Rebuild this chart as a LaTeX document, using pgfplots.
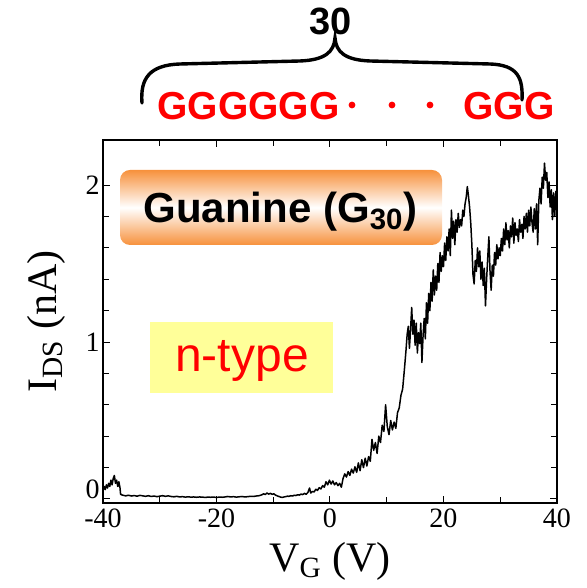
\documentclass[border=0pt]{standalone}
\usepackage{fontspec}
\setmainfont{Liberation Serif}
\setsansfont{Liberation Sans}
\usepackage{pgfplots}
\pgfplotsset{compat=1.18}
\definecolor{gorange}{HTML}{F7913C}
\definecolor{nyellow}{HTML}{FFFF99}

\begin{document}
\begin{tikzpicture}
\begin{axis}[
  scale only axis, width=227pt, height=181.5pt,
  xmin=-40, xmax=40, ymin=-0.0255, ymax=2.287,
  xtick={-40,-20,0,20,40}, minor x tick num=1,
  ytick={0,1,2}, yticklabels={\smash{0},1,2},
  minor y tick num=4,
  tick align=inside, tick pos=both,
  major tick length=3.5pt, minor tick length=3pt,
  every tick/.style={black, line width=0.5pt},
  axis line style={line width=0.8pt},
  /pgf/number format/assume math mode=true,
  tick label style={font=\fontsize{14}{15}\selectfont},
  xticklabel style={inner sep=1pt, yshift=-1.5pt},
  yticklabel style={inner sep=1.5pt},
  label style={font=\fontsize{21}{22}\selectfont},
  xlabel={V\textsubscript{G} (V)}, xlabel shift=3pt,
  ylabel={I\textsubscript{DS} (nA)}, ylabel shift=5pt,
]
% gate sweep
\addplot[black, line width=0.75pt, line join=round] coordinates {
(-40.0,0.05) (-39.8,0.08) (-39.6,0.06) (-39.4,0.09) (-39.2,0.07) (-39.0,0.10)
(-38.8,0.08) (-38.6,0.12) (-38.4,0.09) (-38.2,0.13) (-38.0,0.15) (-37.8,0.10)
(-37.6,0.12) (-37.4,0.08) (-37.2,0.11) (-37.0,0.07) (-36.9,0.03) (-36.6,0.025)
(-36.0,0.020) (-35.5,0.024) (-35.0,0.019) (-34.5,0.022) (-34.0,0.018) (-33.5,0.023)
(-33.0,0.020) (-32.5,0.017) (-32.0,0.021) (-31.5,0.016) (-31.0,0.019) (-30.5,0.015)
(-30.0,0.018) (-29.5,0.021) (-29.0,0.017) (-28.5,0.020) (-28.0,0.016) (-27.5,0.014)
(-27.0,0.017) (-26.5,0.013) (-26.0,0.015) (-25.5,0.012) (-25.0,0.014) (-24.5,0.012)
(-24.0,0.013) (-23.5,0.011) (-23.0,0.013) (-22.5,0.012) (-22.0,0.010) (-21.5,0.012)
(-21.0,0.011) (-20.5,0.012) (-20.0,0.010) (-19.5,0.012) (-19.0,0.011) (-18.5,0.013)
(-18.0,0.016) (-17.5,0.013) (-17.0,0.015) (-16.5,0.012) (-16.0,0.014) (-15.5,0.016)
(-15.0,0.013) (-14.5,0.015) (-14.0,0.017) (-13.5,0.016) (-13.0,0.019) (-12.5,0.021)
(-12.0,0.027) (-11.7,0.033) (-11.4,0.029) (-11.1,0.038) (-10.8,0.031) (-10.5,0.036)
(-10.2,0.030) (-9.9,0.033) (-9.6,0.025) (-9.3,0.020) (-9.0,0.016) (-8.7,0.012)
(-8.4,0.010) (-8.1,0.013) (-7.8,0.015) (-7.5,0.018) (-7.2,0.017) (-6.9,0.021)
(-6.6,0.019) (-6.3,0.024) (-6.0,0.022) (-5.7,0.027) (-5.4,0.025) (-5.1,0.031)
(-4.8,0.028) (-4.5,0.036) (-4.2,0.030) (-3.9,0.041) (-3.6,0.070) (-3.4,0.038)
(-3.1,0.048) (-2.8,0.045) (-2.5,0.062) (-2.2,0.055) (-1.9,0.072) (-1.6,0.064)
(-1.3,0.085) (-1.0,0.075) (-0.7,0.11) (-0.4,0.09) (-0.1,0.12)
(0.2,0.095) (0.5,0.115) (0.8,0.09) (1.1,0.105) (1.4,0.085) (1.7,0.10) (2.0,0.075)
(2.3,0.13) (2.6,0.16) (2.9,0.14) (3.2,0.175) (3.5,0.15) (3.8,0.19) (4.1,0.165)
(4.4,0.205) (4.7,0.17) (5.0,0.23) (5.3,0.18) (5.6,0.25) (5.9,0.20) (6.2,0.26)
(6.5,0.21) (6.8,0.27) (7.1,0.24) (7.4,0.38) (7.7,0.31) (8.0,0.36) (8.3,0.29)
(8.6,0.40) (8.9,0.36) (9.2,0.47) (9.5,0.43) (9.8,0.60) (10.1,0.46) (10.4,0.41)
(10.7,0.50) (11.0,0.44) (11.3,0.49) (11.6,0.45) (11.9,0.55) (12.2,0.58) (12.5,0.66)
(12.8,0.70) (13.1,0.82) (13.4,0.95) (13.6,1.05) (13.8,1.10) (14.0,0.96) (14.2,1.08)
(14.4,1.22) (14.6,1.05) (14.8,1.14) (15.0,0.98) (15.2,1.12) (15.4,0.93) (15.6,1.06)
(15.8,0.99) (16.0,1.12) (16.2,0.87) (16.4,1.04) (16.6,1.15) (16.8,1.02) (17.0,1.25)
(17.2,1.12) (17.4,1.31) (17.6,1.20) (17.8,1.38) (18.0,1.26) (18.2,1.46) (18.4,1.30)
(18.6,1.42) (18.8,1.33) (19.0,1.50) (19.2,1.38) (19.4,1.57) (19.6,1.45) (19.8,1.55)
(20.0,1.48) (20.2,1.63) (20.4,1.52) (20.6,1.67) (20.8,1.58) (21.0,1.72) (21.2,1.55)
(21.4,1.84) (21.6,1.66) (21.8,1.77) (22.0,1.62) (22.2,1.78) (22.4,1.70) (22.6,1.82)
(22.8,1.73) (23.0,1.78) (23.2,1.74) (23.4,1.84) (23.6,1.80) (23.8,1.88) (24.0,1.92)
(24.2,1.99) (24.4,1.93) (24.6,1.86) (24.8,1.76) (25.0,1.62) (25.2,1.43) (25.4,1.37)
(25.6,1.52) (25.8,1.45) (26.0,1.60) (26.2,1.48) (26.4,1.58) (26.6,1.40) (26.8,1.51)
(27.0,1.36) (27.2,1.47) (27.4,1.23) (27.6,1.40) (27.8,1.54) (28.0,1.67) (28.2,1.45)
(28.4,1.33) (28.6,1.49) (28.8,1.42) (29.0,1.57) (29.2,1.49) (29.4,1.62) (29.6,1.53)
(29.8,1.60) (30.0,1.55) (30.2,1.66) (30.4,1.58) (30.6,1.72) (30.8,1.62) (31.0,1.76)
(31.2,1.65) (31.4,1.71) (31.6,1.60) (31.8,1.74) (32.0,1.67) (32.2,1.79) (32.4,1.63)
(32.6,1.76) (32.8,1.68) (33.0,1.72) (33.2,1.64) (33.4,1.78) (33.6,1.70) (33.8,1.75)
(34.0,1.66) (34.2,1.80) (34.4,1.72) (34.6,1.82) (34.8,1.70) (35.0,1.84) (35.2,1.74)
(35.4,1.86) (35.6,1.76) (35.8,1.70) (36.0,1.85) (36.2,1.72) (36.4,1.88) (36.6,1.62)
(36.8,1.90) (37.0,1.98) (37.2,1.88) (37.4,2.05) (37.6,1.98) (37.8,2.14) (38.0,2.03)
(38.2,2.08) (38.4,1.92) (38.6,2.02) (38.8,1.86) (39.0,1.97) (39.2,1.78) (39.4,1.95)
(39.6,1.80) (39.8,1.96) (40.0,1.84)
};
\end{axis}
% annotations in reference pixel units: (103,503) is the axis corner
\begin{scope}[shift={(-51.5pt,251.5pt)}, x=0.5pt, y=-0.5pt]
  \shade[rounded corners=5pt, top color=gorange, bottom color=gorange, middle color=white]
    (120,170) rectangle (442,245);
  \node[anchor=base, font=\sffamily\bfseries\fontsize{21}{22}\selectfont]
    at (280.5,223) {Guanine (G\textsubscript{30})};
  \fill[nyellow] (150,322) rectangle (333,393);
  \node[anchor=base, text=red, font=\sffamily\fontsize{24}{26}\selectfont]
    at (242,372) {n-type};
  \draw[line width=1.7pt, line cap=round]
    (142,103) .. controls (140,78) and (150,65) .. (180,64) -- (300,61)
    .. controls (325,60) and (334,52) .. (335,38)
    .. controls (336,52) and (345,60) .. (370,61) -- (490,64)
    .. controls (518,65) and (523,78) .. (522,100);
  \node[anchor=base, inner sep=0, font=\sffamily\bfseries\fontsize{19}{20}\selectfont]
    at (331,35) {30};
  \node[anchor=base west, inner sep=0, text=red, font=\sffamily\bfseries\fontsize{19.5}{20}\selectfont]
    at (157,120) {GGGGGG};
  \node[anchor=base west, inner sep=0, text=red, font=\sffamily\bfseries\fontsize{19.5}{20}\selectfont]
    at (463,120) {GGG};
  \fill[red] (352,105) circle (1.7pt) (392,105) circle (1.7pt) (430,105) circle (1.7pt);
\end{scope}
\pgfresetboundingbox
\path (-51.5pt,251.5pt) rectangle (242pt,-42.5pt);
\end{tikzpicture}
\end{document}
